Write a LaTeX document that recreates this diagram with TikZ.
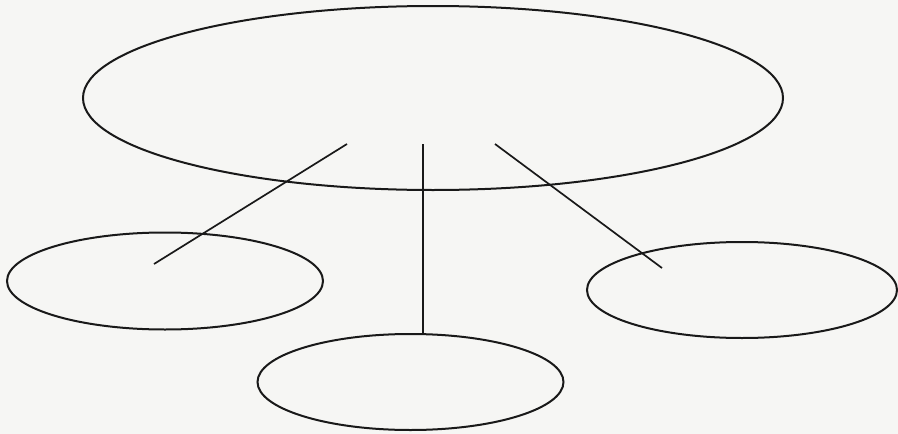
\documentclass[tikz,border=0pt]{standalone}
\usetikzlibrary{shapes.geometric}
\definecolor{paper}{RGB}{246,246,244}
\definecolor{ink}{RGB}{25,25,25}
\begin{document}
\begin{tikzpicture}[x=1pt,y=-1pt,
  oval/.style={draw=ink, line width=2pt, ellipse, inner sep=0pt},
  link/.style={draw=ink, line width=1.7pt}]
\fill[paper] (0,0) rectangle (898,434);
\useasboundingbox (0,0) rectangle (898,434);
\node[oval, minimum width=700pt, minimum height=184pt] (top) at (433,98) {};
\node[oval, minimum width=316pt, minimum height=97pt] (left) at (165,281) {};
\node[oval, minimum width=306pt, minimum height=96pt] (bottom) at (410.5,382) {};
\node[oval, minimum width=310pt, minimum height=96pt] (right) at (742,290) {};
\coordinate (t1) at (347,144);
\coordinate (t2) at (423,144);
\coordinate (t3) at (495,144);
\coordinate (l1) at (154,264);
\coordinate (r1) at (662,268);
\draw[link] (t1) -- (l1);
\draw[link] (t2) -- (t2 |- bottom.north);
\draw[link] (t3) -- (r1);
\end{tikzpicture}
\end{document}
